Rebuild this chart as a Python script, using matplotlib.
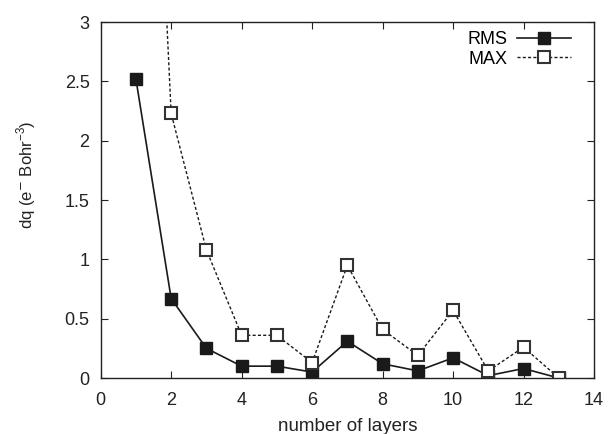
import numpy as np
import matplotlib.pyplot as plt

plt.rcParams['font.family'] = ['Liberation Sans', 'DejaVu Sans']
plt.rcParams['mathtext.fontset'] = 'custom'
plt.rcParams['mathtext.rm'] = 'Liberation Sans'

layers = [1, 2, 3, 4, 5, 6, 7, 8, 9, 10, 11, 12, 13]
rms = [2.52, 0.67, 0.25, 0.10, 0.10, 0.05, 0.31, 0.12, 0.06, 0.17, 0.02, 0.08, 0.0]
mx = [8.5, 2.23, 1.08, 0.36, 0.36, 0.13, 0.95, 0.41, 0.19, 0.57, 0.06, 0.26, 0.0]

fig = plt.figure(figsize=(6.08, 4.34), dpi=100)
ax = fig.add_axes([0.1656, 0.129, 0.8114, 0.820])

ax.plot(layers, rms, '-', color='#1a1a1a', lw=1.2, marker='s', ms=8,
        mfc='#1a1a1a', mec='#1a1a1a', label='RMS')
ax.plot(layers, mx, '--', color='#1a1a1a', lw=1.0, dashes=(2.2, 1.6), marker='s', ms=8,
        mfc='white', mec='#333333', mew=1.5, label='MAX')

ax.set_xlim(0, 14)
ax.set_ylim(0, 3)
ax.set_xticks(np.arange(0, 15, 2))
ax.set_yticks(np.arange(0, 3.01, 0.5))
ax.set_yticklabels(['0', '0.5', '1', '1.5', '2', '2.5', '3'])
ax.tick_params(direction='in', top=True, right=True, length=5, width=0.8,
               labelsize=13, colors='#222222', pad=8)
ax.tick_params(axis='x', pad=10)
for s in ax.spines.values():
    s.set_linewidth(1.0)
    s.set_color('#222222')

ax.set_xlabel('number of layers', fontsize=13.5, color='#222222', va='top')
ax.xaxis.set_label_coords(0.5, -0.112)
ax.set_ylabel(r'dq (e$^{\mathsf{-}}$ Bohr$^{-3}$)', fontsize=12, color='#222222')
ax.yaxis.set_label_coords(-0.127, 0.57)

ax.legend(loc='upper right', bbox_to_anchor=(0.953, 0.975), frameon=False,
          markerfirst=False, fontsize=13, handlelength=3.0, handletextpad=0.5,
          labelspacing=0.15, borderaxespad=0, borderpad=0)

fig.savefig('out.png', dpi=100)
